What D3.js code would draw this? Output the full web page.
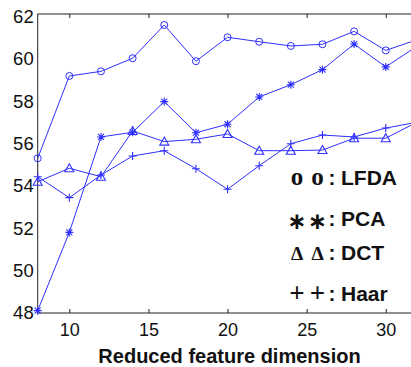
<!DOCTYPE html>
<html>
<head>
<meta charset="utf-8">
<script src="https://cdn.jsdelivr.net/npm/d3@7"></script>
<style>
  body { margin: 0; background: #fff; }
  svg { display: block; }
</style>
</head>
<body>
<div id="chart"></div>
<script>
const dims = [8, 10, 12, 14, 16, 18, 20, 22, 24, 26, 28, 30, 32]
const lfda = [55.31, 59.2, 59.42, 60.04, 61.61, 59.9, 61.03, 60.82, 60.62, 60.7, 61.31, 60.41, 60.92]
const pca = [48.11, 51.81, 56.32, 56.54, 57.99, 56.52, 56.92, 58.21, 58.79, 59.5, 60.71, 59.63, 60.62]
const dct = [54.2, 54.84, 54.44, 56.6, 56.1, 56.21, 56.46, 55.67, 55.67, 55.7, 56.26, 56.26, 57.03]
const haar = [54.44, 53.45, 54.52, 55.42, 55.67, 54.82, 53.85, 54.96, 56.0, 56.41, 56.32, 56.74, 57.02]

const xTicks = [10, 15, 20, 25, 30]
const yTicks = [48, 50, 52, 54, 56, 58, 60, 62]

const legendRows = [
    { sym: "o", name: "LFDA" },
    { sym: "\u2217", name: "PCA" },
    { sym: "\u0394", name: "DCT" },
    { sym: "+", name: "Haar" }
]

const width = 411
const height = 367
const blue = "#2f2fff"

const svg = d3.select("#chart").append("svg").attr("width", width).attr("height", height)

const x = d3.scaleLinear().domain([8, 32]).range([37.7, 417.4])
const y = d3.scaleLinear().domain([48, 62.13]).range([313, 14])

// axis box
svg.append("rect")
    .attr("x", x(8)).attr("y", y(62.13))
    .attr("width", x(32) - x(8)).attr("height", y(48) - y(62.13))
    .attr("fill", "none").attr("stroke", "#222").attr("stroke-width", 1)

// inward ticks, bottom and top
const xAxisB = d3.axisBottom(x).tickValues(xTicks).tickSize(-4).tickPadding(10).tickFormat(d3.format("d"))
const gxb = svg.append("g").attr("transform", `translate(0,${y(48)})`).call(xAxisB)
gxb.select(".domain").remove()
gxb.selectAll("text").attr("font-family", "Liberation Sans, Arial, sans-serif").attr("font-size", 18).attr("fill", "#111")
gxb.selectAll("line").attr("stroke", "#222")

const xAxisT = d3.axisTop(x).tickValues(xTicks).tickSize(-4).tickFormat("")
const gxt = svg.append("g").attr("transform", `translate(0,${y(62.13)})`).call(xAxisT)
gxt.select(".domain").remove()
gxt.selectAll("line").attr("stroke", "#222")

const yAxis = d3.axisLeft(y).tickValues(yTicks).tickSize(0).tickPadding(4)
const gy = svg.append("g").attr("transform", `translate(${x(8)},0)`).call(yAxis)
gy.select(".domain").remove()
gy.selectAll("text").attr("font-family", "Liberation Sans, Arial, sans-serif").attr("font-size", 18.5).attr("fill", "#111")

// x label
svg.append("text")
    .attr("x", 229.5).attr("y", 362.5)
    .attr("text-anchor", "middle")
    .attr("font-family", "Liberation Sans, Arial, sans-serif")
    .attr("font-weight", "bold").attr("font-size", 20)
    .attr("fill", "#111")
    .text("Reduced feature dimension")

// series
const line = d3.line().x((d, i) => x(dims[i])).y(d => y(d))
const plot = svg.append("g")

const series = [
    { vals: lfda, mark: "circle" },
    { vals: pca, mark: "star" },
    { vals: dct, mark: "triangle" },
    { vals: haar, mark: "plus" }
]

function markPath(kind) {
    const s = 4
    if (kind === "plus") return `M${-s},0H${s}M0,${-s}V${s}`
    if (kind === "star") return `M${-s},0H${s}M0,${-s}V${s}M${-3},${-3}L3,3M${-3},3L3,${-3}`
    if (kind === "triangle") return `M0,${-4.5}L4.5,3.5L-4.5,3.5Z`
    return null
}

series.forEach(s => {
    plot.append("path")
        .datum(s.vals)
        .attr("d", line)
        .attr("fill", "none")
        .attr("stroke", blue)
        .attr("stroke-width", 1)

    const pts = plot.append("g").selectAll("g")
        .data(s.vals)
        .join("g")
        .attr("transform", (d, i) => `translate(${x(dims[i])},${y(d)})`)

    if (s.mark === "circle") {
        pts.append("circle").attr("r", 3.5).attr("fill", "none").attr("stroke", blue).attr("stroke-width", 1)
    } else {
        pts.append("path").attr("d", markPath(s.mark)).attr("fill", "none").attr("stroke", blue).attr("stroke-width", 1.1)
    }
})

// legend text: two symbol glyphs, colon, then name
const baselines = [185, 225.7, 260, 300.7]
const symStyle = [
    { size: 25, weight: "bold", family: "Liberation Serif, serif", dy: 0 },
    { size: 23, weight: "bold", family: "DejaVu Sans, sans-serif", dy: 3 },
    { size: 19.5, weight: "bold", family: "Liberation Serif, serif", dy: 0 },
    { size: 27, weight: "bold", family: "Liberation Serif, serif", dy: 1 }
]
const symCenters = [297, 317.5]
const leg = svg.append("g")
legendRows.forEach((r, i) => {
    const st = symStyle[i]
    symCenters.forEach(cx => {
        leg.append("text")
            .attr("x", cx).attr("y", baselines[i] + st.dy)
            .attr("text-anchor", "middle")
            .attr("font-family", st.family)
            .attr("font-weight", st.weight).attr("font-size", st.size)
            .attr("fill", "#111")
            .text(r.sym)
    })
    leg.append("text")
        .attr("x", 328.5).attr("y", baselines[i])
        .attr("font-family", "Liberation Sans, Arial, sans-serif")
        .attr("font-weight", "bold").attr("font-size", 21)
        .attr("fill", "#111")
        .text(":")
    leg.append("text")
        .attr("x", 341).attr("y", baselines[i])
        .attr("font-family", "Liberation Sans, Arial, sans-serif")
        .attr("font-weight", "bold").attr("font-size", 21)
        .attr("fill", "#111")
        .text(r.name)
})
</script>
</body>
</html>
